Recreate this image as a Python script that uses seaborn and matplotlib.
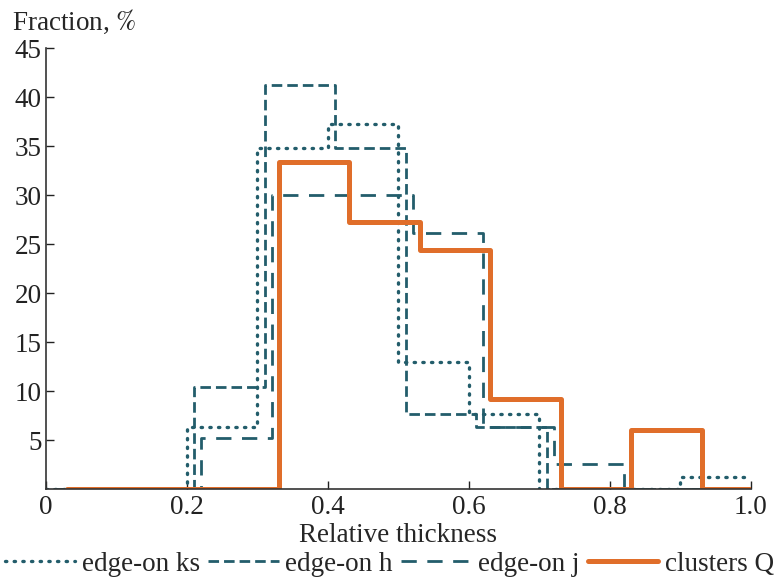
import numpy as np
import matplotlib
matplotlib.use("Agg")
import matplotlib.pyplot as plt
import seaborn as sns

sns.set_style("ticks")
plt.rcParams['font.family'] = ['Liberation Serif', 'DejaVu Serif']
plt.rcParams['mathtext.fontset'] = 'stix'

# bin left edges (step 0.1) for each sample, fractions in %
edges_ks = [0.00, 0.10, 0.20, 0.30, 0.40, 0.50, 0.60, 0.70, 0.80, 0.90, 1.00]
frac_ks = [0, 0, 6.3, 34.8, 37.3, 13.0, 7.7, 0, 0, 1.2]

edges_h = [0.01, 0.11, 0.21, 0.31, 0.41, 0.51, 0.61, 0.71, 0.81, 0.91, 1.01]
frac_h = [0, 0, 10.4, 41.2, 34.8, 7.7, 6.4, 0, 0, 0]

edges_j = [0.02, 0.12, 0.22, 0.32, 0.42, 0.52, 0.62, 0.72, 0.82, 0.92, 1.02]
frac_j = [0, 0, 5.2, 30.0, 30.0, 26.1, 6.4, 2.6, 0, 0]

edges_q = [0.03, 0.13, 0.23, 0.33, 0.43, 0.53, 0.63, 0.73, 0.83, 0.93, 1.03]
frac_q = [0, 0, 0, 33.4, 27.3, 24.4, 9.2, 0, 6.0, 0]

labels = ["edge-on ks", "edge-on h", "edge-on j", "clusters Q"]
xticks = [0, 0.2, 0.4, 0.6, 0.8, 1.0]
xticklabels = ["0", "0.2", "0.4", "0.6", "0.8", "1.0"]
yticks = [5, 10, 15, 20, 25, 30, 35, 40, 45]

teal = "#235d6b"
orange = "#e06e2a"
fs = 19.5

fig = plt.figure(figsize=(7.79, 5.79), dpi=100)
ax = fig.add_axes([0.059, 0.155, 0.905, 0.762])


def step(edges, vals, **kw):
    # steps-post: repeat last value so the final bin is drawn
    y = list(vals) + [vals[-1]]
    sns.lineplot(x=edges, y=y, ax=ax, drawstyle="steps-post",
                 sort=False, estimator=None, **kw)


step(edges_ks, frac_ks, color=teal, lw=2.4, dashes=(0.4, 2.2),
     dash_capstyle="round", label=labels[0])
step(edges_h, frac_h, color=teal, lw=2.0, dashes=(3.8, 1.8), label=labels[1])
step(edges_j, frac_j, color=teal, lw=2.0, dashes=(5.5, 3.8), label=labels[2])
step(edges_q, frac_q, color=orange, lw=3.6, solid_joinstyle="round",
     label=labels[3])

ax.set_xlim(0, 1.0)
ax.set_ylim(0, 45)
ax.set_xticks(xticks)
ax.set_xticklabels(xticklabels)
ax.set_yticks(yticks)
ax.tick_params(direction="in", length=6, width=1, labelsize=fs,
               colors="#222222", pad=4)
ax.tick_params(axis="y", pad=3)
for s in ["top", "right"]:
    ax.spines[s].set_visible(False)
for s in ["left", "bottom"]:
    ax.spines[s].set_color("#333333")
    ax.spines[s].set_linewidth(1.2)

ax.set_xlabel("Relative thickness", fontsize=fs, labelpad=2)
ax.set_ylabel("")
fig.text(0.016, 0.963, "Fraction, $\\mathit{\\%}$", fontsize=fs,
         ha="left", va="center")

ax.get_legend().remove()
handles, labs = ax.get_legend_handles_labels()
fig.legend(handles, labs, loc="lower center", bbox_to_anchor=(0.5, -0.038),
           ncol=4, frameon=False, fontsize=fs, handlelength=2.6,
           handletextpad=0.25, columnspacing=0.3)

fig.savefig("out.png", dpi=100)
